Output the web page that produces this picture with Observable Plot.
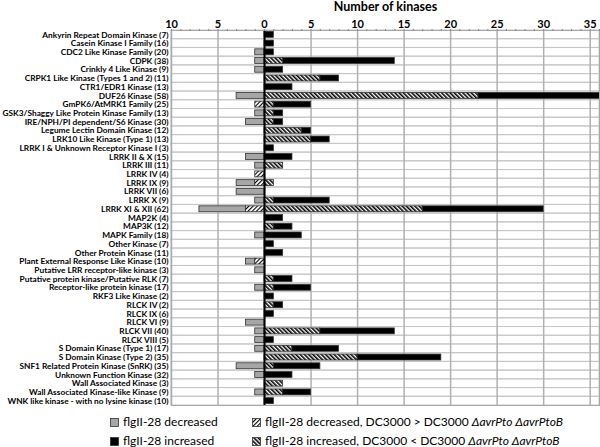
<!DOCTYPE html>
<html><head><meta charset="utf-8">
<script src="https://cdn.jsdelivr.net/npm/d3@7"></script>
<script src="https://cdn.jsdelivr.net/npm/@observablehq/plot@0.6"></script>
<style>
body{margin:0;background:#fff;font-family:Lato,"Open Sans",sans-serif;}
#wrap{width:600px;height:447px;position:relative;overflow:hidden;background:#fff}
#title{position:absolute;left:171px;width:429px;top:0;text-align:center;font-weight:bold;font-size:12.5px;line-height:14px}
#chart{position:absolute;left:0;top:13px}
#legend{position:absolute;top:0;left:0;width:600px;height:447px;font-size:12px;pointer-events:none}
.item{position:absolute;display:flex;align-items:center;white-space:nowrap;line-height:14px}
.item svg{margin-right:4px}
</style>
</head><body>
<div id="wrap">
  <div id="title">Number of kinases</div>
  <div id="chart"></div>
  <div id="legend"></div>
</div>
<script>
const categories = [
  "Ankyrin Repeat Domain Kinase (7)",
  "Casein Kinase I Family (16)",
  "CDC2 Like Kinase Family (20)",
  "CDPK (38)",
  "Crinkly 4 Like Kinase (9)",
  "CRPK1 Like Kinase (Types 1 and 2) (11)",
  "CTR1/EDR1 Kinase (13)",
  "DUF26 Kinase (58)",
  "GmPK6/AtMRK1 Family (25)",
  "GSK3/Shaggy Like Protein Kinase Family (13)",
  "IRE/NPH/PI dependent/S6 Kinase (30)",
  "Legume Lectin Domain Kinase (12)",
  "LRK10 Like Kinase (Type 1) (13)",
  "LRRK I & Unknown Receptor Kinase I (3)",
  "LRRK II & X (15)",
  "LRRK III (11)",
  "LRRK IV (4)",
  "LRRK IX (9)",
  "LRRK VII (6)",
  "LRRK X (9)",
  "LRRK XI & XII (62)",
  "MAP2K (4)",
  "MAP3K (12)",
  "MAPK Family (18)",
  "Other Kinase (7)",
  "Other Protein Kinase (11)",
  "Plant External Response Like Kinase (10)",
  "Putative LRR receptor-like kinase (3)",
  "Putative protein kinase/Putative RLK (7)",
  "Receptor-like protein kinase (17)",
  "RKF3 Like Kinase (2)",
  "RLCK IV (2)",
  "RLCK IX (6)",
  "RLCK VI (9)",
  "RLCK VII (40)",
  "RLCK VIII (5)",
  "S Domain Kinase (Type 1) (17)",
  "S Domain Kinase (Type 2) (35)",
  "SNF1 Related Protein Kinase (SnRK) (35)",
  "Unknown Function Kinase (32)",
  "Wall Associated Kinase (3)",
  "Wall Associated Kinase-like Kinase (9)",
  "WNK like kinase - with no lysine kinase (10)"
];
// flgII-28 decreased (solid grey)
const decreased = [0,0,1,1,1,0,0,3,0,1,2,0,0,0,2,1,0,2,3,1,5,0,0,1,0,0,1,1,0,1,0,0,0,2,1,1,1,0,3,1,0,1,0];
// flgII-28 decreased, DC3000 > DC3000 ΔavrPto ΔavrPtoB (hatched)
const decreasedHatch = [0,0,0,0,0,0,0,0,1,0,0,0,0,0,0,0,1,1,0,0,2,0,0,0,0,0,1,0,0,0,0,0,0,0,0,0,0,0,0,0,0,0,0];
// flgII-28 increased, DC3000 < DC3000 ΔavrPto ΔavrPtoB (hatched)
const increasedHatch = [0,0,0,2,0,6,0,23,1,1,1,4,5,0,0,2,0,1,0,1,17,0,1,0,0,0,0,0,1,1,0,1,0,0,6,0,3,10,1,0,2,2,0];
// flgII-28 increased (solid black)
const increased = [1,1,1,12,2,2,3,14,4,1,1,1,2,1,3,0,0,0,0,6,13,2,2,4,1,2,0,0,2,4,1,1,1,0,8,1,5,9,5,3,0,3,1];

const xTicks = [-10,-5,0,5,10,15,20,25,30,35];
const minorTicks = d3.range(-10, 37);

const segDec = [], segDecH = [], segIncH = [], segInc = [];
categories.forEach((c, i) => {
  const dh = decreasedHatch[i], ds = decreased[i], ih = increasedHatch[i], is = increased[i];
  if (dh) segDecH.push({cat: c, x1: -dh, x2: 0});
  if (ds) segDec.push({cat: c, x1: -(dh + ds), x2: -dh});
  if (ih) segIncH.push({cat: c, x1: 0, x2: ih});
  if (is) segInc.push({cat: c, x1: ih, x2: ih + is});
});

const inset = 1.4;
const barOpts = {x1: "x1", x2: "x2", y: "cat", insetTop: inset, insetBottom: inset, stroke: "#333", strokeWidth: 0.8};

const plot = Plot.plot({
  width: 600,
  height: 393,
  marginLeft: 171,
  marginRight: 1,
  marginTop: 17,
  marginBottom: 1,
  style: {fontFamily: "Lato, 'Open Sans', sans-serif", fontSize: "8.3px", fontWeight: "bold", color: "#000", background: "#fff", overflow: "visible"},
  x: {domain: [-10, 36]},
  y: {domain: categories, padding: 0},
  marks: [
    Plot.cell(categories, {y: d => d, fill: "none", stroke: "#c6c6c6", strokeWidth: 1}),
    Plot.ruleX(xTicks, {stroke: "#b0b0b0", strokeWidth: 1.5}),
    Plot.barX(segDec, {...barOpts, fill: "#a6a6a6"}),
    Plot.barX(segDecH, {...barOpts, fill: "url(#hatchDec)"}),
    Plot.barX(segIncH, {...barOpts, fill: "url(#hatchInc)"}),
    Plot.barX(segInc, {...barOpts, fill: "#000"}),
    Plot.ruleX([0], {stroke: "#000", strokeWidth: 2}),
    Plot.frame({stroke: "#a8a8a8"}),
    Plot.axisX({anchor: "top", ticks: minorTicks, tickSize: 2, tickFormat: () => "", label: null, stroke: "#888"}),
    Plot.axisX({anchor: "top", ticks: xTicks, tickSize: 0, tickPadding: 3, tickFormat: d => Math.abs(d), fontSize: 11, label: null}),
    Plot.axisY({tickSize: 0, tickPadding: 3, label: null})
  ]
});

const defs = d3.select(plot).insert("defs", ":first-child");
function pattern(id, angle, w) {
  const p = defs.append("pattern").attr("id", id).attr("patternUnits", "userSpaceOnUse")
    .attr("width", 3).attr("height", 3).attr("patternTransform", `rotate(${angle})`);
  p.append("rect").attr("width", 3).attr("height", 3).attr("fill", "#fff");
  p.append("rect").attr("width", w).attr("height", 3).attr("fill", "#000");
}
pattern("hatchInc", -45, 1.6);
pattern("hatchDec", 45, 1.1);
document.getElementById("chart").appendChild(plot);

const legendItems = [
  {x: 110, y: 422, fill: "#a6a6a6", html: "flgII-28 decreased"},
  {x: 252, y: 422, fill: "url(#hatchDec)", html: "flgII-28 decreased, DC3000 &gt; DC3000 <i>ΔavrPto ΔavrPtoB</i>"},
  {x: 110, y: 441, fill: "#000", html: "flgII-28 increased"},
  {x: 252, y: 441, fill: "url(#hatchInc)", html: "flgII-28 increased, DC3000 &lt; DC3000 <i>ΔavrPto ΔavrPtoB</i>"}
];
const leg = document.getElementById("legend");
legendItems.forEach(it => {
  const d = document.createElement("div");
  d.className = "item";
  d.style.left = it.x + "px";
  d.style.top = (it.y - 7) + "px";
  d.innerHTML = `<svg width="9" height="9"><rect x="0.5" y="0.5" width="8" height="8" fill="${it.fill}" stroke="#333" stroke-width="0.8"/></svg><span>${it.html}</span>`;
  leg.appendChild(d);
});
</script>
</body></html>
